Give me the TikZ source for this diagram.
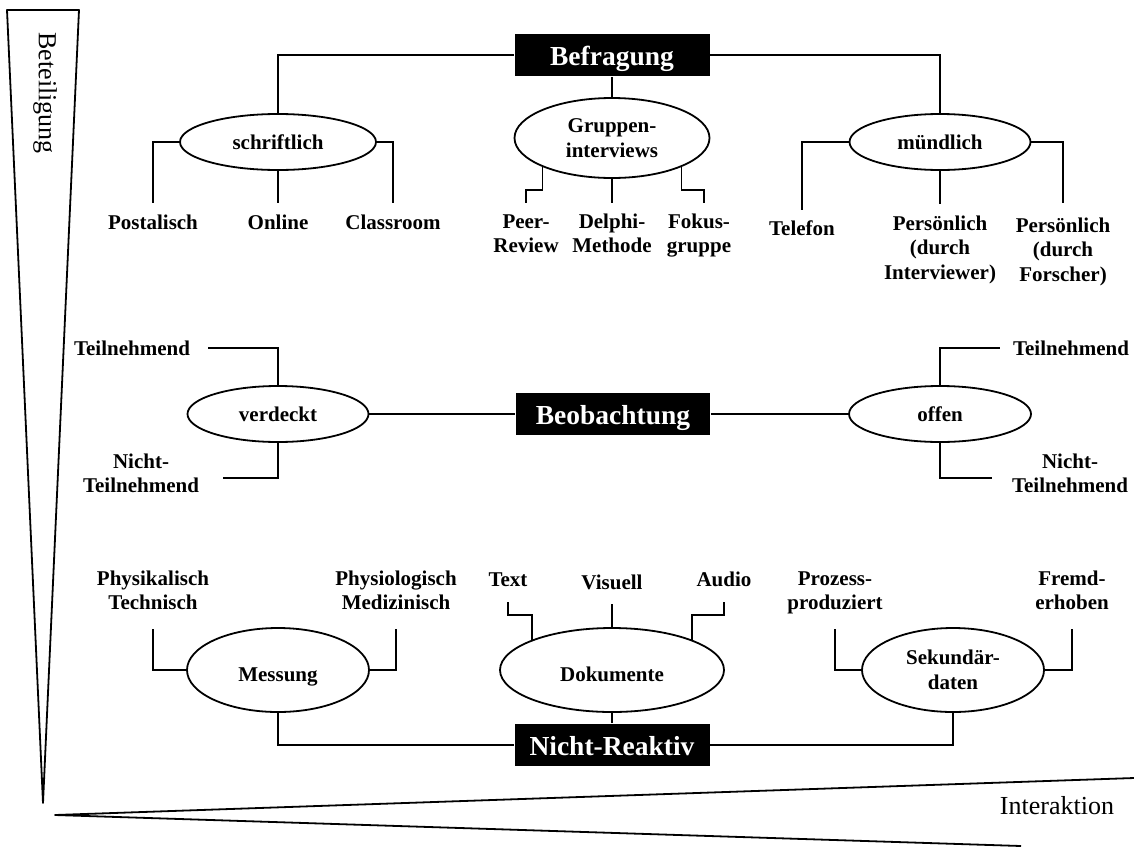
\documentclass[tikz,border=0pt]{standalone}
\usepackage{fontspec}
\setmainfont{Liberation Serif}
\usetikzlibrary{shapes.geometric}

\begin{document}
\begin{tikzpicture}
	[x=1pt, y=-1pt, line width=1.8pt,
	 method/.style={fill=black, text=white, inner sep=0pt, minimum width=195pt,
	   minimum height=42pt, text height=21pt, text depth=0pt,
	   font=\bfseries\fontsize{27.5}{30}\selectfont},
	 oval/.style={ellipse, draw, inner sep=0pt, align=center,
	   font=\bfseries\fontsize{21}{24.5}\selectfont},
	 low/.style={text height=22pt, text depth=0pt},
	 leaf/.style={anchor=base, inner sep=0pt, align=center,
	   font=\bfseries\fontsize{21}{24.5}\selectfont},
	 axis label/.style={font=\fontsize{26}{28}\selectfont},
	 fork/.style={to path={-| (\tikztotarget)}},
	 tee/.style={to path={|- (\tikztotarget)}},
	 jog/.style={to path={-- ++(0,#1) -| (\tikztotarget)}}]
   \useasboundingbox (0,0) rectangle (1134,846);

   % Befragung
   \node[method] (befragung) at (612,55) {Befragung};
   \node[oval, minimum width=196pt, minimum height=56pt] (schriftlich) at (278,142) {schriftlich};
   \node[oval, minimum width=195pt, minimum height=80pt] (gruppen) at (612,138) {Gruppen-\\interviews};
   \node[oval, minimum width=181pt, minimum height=56pt] (muendlich) at (940,142) {mündlich};
   \node[leaf] (postalisch) at (153,229) {Postalisch};
   \node[leaf] (online) at (278,229) {Online};
   \node[leaf] (classroom) at (393,229) {Classroom};
   \node[leaf] (peer) at (526,252.5) {Peer-\\Review};
   \node[leaf] (delphi) at (612,252.5) {Delphi-\\Methode};
   \node[leaf] (fokus) at (699,252.5) {Fokus-\\gruppe};
   \node[leaf] (telefon) at (802,235) {Telefon};
   \node[leaf] (interviewer) at (940,279) {Persönlich\\(durch\\Interviewer)};
   \node[leaf] (forscher) at (1063,281) {Persönlich\\(durch\\Forscher)};

   % Beobachtung
   \node[method, minimum width=194pt] (beobachtung) at (613,414) {Beobachtung};
   \node[oval, minimum width=181pt, minimum height=56pt] (verdeckt) at (278,414) {verdeckt};
   \node[oval, minimum width=182pt, minimum height=56pt] (offen) at (940,414) {offen};
   \node[leaf] (teil_l) at (132,355) {Teilnehmend};
   \node[leaf] (nicht_l) at (141,492.5) {Nicht-\\Teilnehmend};
   \node[leaf] (teil_r) at (1071,355) {Teilnehmend};
   \node[leaf] (nicht_r) at (1070,492.5) {Nicht-\\Teilnehmend};

   % Nicht-Reaktiv
   \node[method] (nichtreaktiv) at (612,745) {Nicht-Reaktiv};
   \node[oval, low, minimum width=182pt, minimum height=84pt] (messung) at (278,670) {Messung};
   \node[oval, low, minimum width=224pt, minimum height=84pt] (dokumente) at (612,670) {Dokumente};
   \node[oval, minimum width=182pt, minimum height=84pt] (sekundaer) at (953,670) {Sekundär-\\daten};
   \node[leaf] (physik) at (153,609.5) {Physikalisch\\Technisch};
   \node[leaf] (physio) at (396,609.5) {Physiologisch\\Medizinisch};
   \node[leaf] (doc_text) at (508,586) {Text};
   \node[leaf] (doc_visual) at (612,589) {Visuell};
   \node[leaf] (doc_audio) at (724,586) {Audio};
   \node[leaf] (prozess) at (835,609.5) {Prozess-\\produziert};
   \node[leaf] (fremd) at (1072,609.5) {Fremd-\\erhoben};

   \path
   (befragung.west) edge[fork] (schriftlich.north)
   (befragung.south) edge (gruppen.north)
   (befragung.east) edge[fork] (muendlich.north)
   (schriftlich.west) edge[fork, shorten >=26pt] (postalisch.base)
   (schriftlich.south) edge[shorten >=26pt] (online.base)
   (schriftlich.east) edge[fork, shorten >=26pt] (classroom.base)
   (gruppen.south west) edge[jog=23, shorten >=49.5pt] (peer.base)
   (gruppen.south) edge[shorten >=49.5pt] (delphi.base)
   (gruppen.south east) edge[jog=23, shorten >=49.5pt] ([xshift=5pt]fokus.base)
   (muendlich.west) edge[fork, shorten >=25pt] (telefon.base)
   (muendlich.south) edge[shorten >=75pt] (interviewer.base)
   (muendlich.east) edge[fork, shorten >=78pt] (forscher.base);

   \path
   (verdeckt.east) edge (beobachtung.west)
   (beobachtung.east) edge (offen.west)
   (verdeckt.north) edge[tee, shorten >=17.5pt] (teil_l.east)
   (verdeckt.south) edge[tee, shorten >=23.5pt] ([yshift=-5pt]nicht_l.east)
   (offen.north) edge[tee, shorten >=12.5pt] (teil_r.west)
   (offen.south) edge[tee, shorten >=19.5pt] ([yshift=-5pt]nicht_r.west);

   \path
   (nichtreaktiv.west) edge[fork] (messung.south)
   (nichtreaktiv.north) edge (dokumente.south)
   (nichtreaktiv.east) edge[fork] (sekundaer.south)
   (messung.west) edge[fork, shorten >=19.5pt] (physik.base)
   (messung.east) edge[fork, shorten >=19.5pt] (physio.base)
   (dokumente.north west) edge[jog=-25, shorten >=16pt] (doc_text.base)
   (dokumente.north) edge[shorten >=15pt] (doc_visual.base)
   (dokumente.north east) edge[jog=-25, shorten >=16pt] (doc_audio.base)
   (sekundaer.west) edge[fork, shorten >=19.5pt] (prozess.base)
   (sekundaer.east) edge[fork, shorten >=19.5pt] (fremd.base);

   % axes
   \draw[line join=round] (7,10) -- (79,10) -- (43,803) -- cycle;
   \node[axis label, rotate=-90] (beteiligung) at (45,93) {Beteiligung};
   \draw[line join=round] (1134,778) -- (55,815) -- (1021,846);
   \node[axis label, anchor=base] (interaktion) at (1057,814) {Interaktion};

\end{tikzpicture}
\end{document}
